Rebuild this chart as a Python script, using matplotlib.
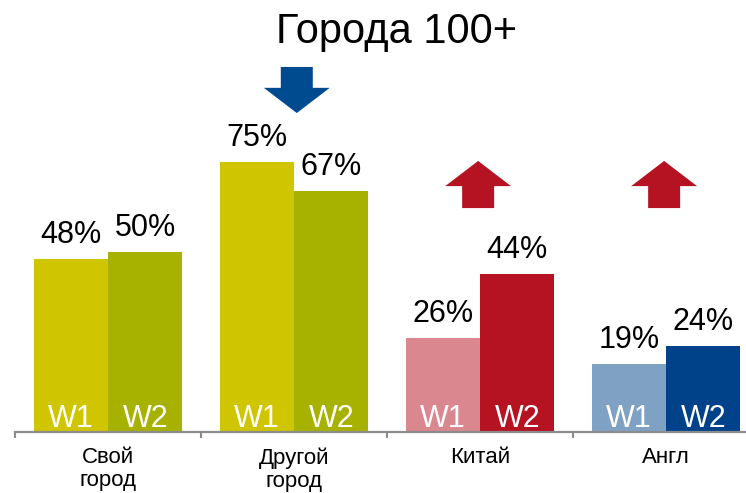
import matplotlib

matplotlib.use("Agg")
import matplotlib.pyplot as plt
from matplotlib.patches import Polygon

plt.rcParams["font.family"] = ["Liberation Sans", "DejaVu Sans"]

categories = ["Свой\nгород", "Другой\nгород", "Китай", "Англ"]
w1_values = [48, 75, 26, 19]
w2_values = [50, 67, 44, 24]
wave_labels = ["W1", "W2"]
trend = [None, "down", "up", "up"]

w1_colors = ["#CFC500", "#CFC500", "#DB878F", "#7FA2C4"]
w2_colors = ["#A7B100", "#A7B100", "#B51222", "#00428A"]
arrow_colors = {"down": "#004A8F", "up": "#B51222"}

BAR_W = 0.4


def arrow(ax, x, kind):
    # block arrow in data units
    hw, sw = 0.177, 0.086
    if kind == "down":
        top, base, tip = 101.4, 95.6, 88.6
    else:
        top, base, tip = 62.2, 68.3, 75.3
    pts = [
        (x - sw, top), (x + sw, top), (x + sw, base), (x + hw, base),
        (x, tip), (x - hw, base), (x - sw, base),
    ]
    ax.add_patch(Polygon(pts, closed=True, color=arrow_colors[kind], lw=0))


fig = plt.figure(figsize=(7.46, 4.93), dpi=100)
ax = fig.add_axes([15 / 746, 61 / 493, 744 / 746, 432 / 493])
ax.set_xlim(-0.5, 3.5)
ax.set_ylim(0, 120)

for i, (v1, v2) in enumerate(zip(w1_values, w2_values)):
    for dx, v, c, lab in ((-BAR_W / 2, v1, w1_colors[i], wave_labels[0]),
                          (BAR_W / 2, v2, w2_colors[i], wave_labels[1])):
        ax.bar(i + dx, v, width=BAR_W, color=c, linewidth=0)
        ax.annotate(f"{v}%", (i + dx, v), xytext=(0, 11.5), textcoords="offset points",
                    ha="center", va="baseline", fontsize=22, color="black")
        ax.annotate(lab, (i + dx, 0), xytext=(0, 3.6), textcoords="offset points",
                    ha="center", va="baseline", fontsize=22, color="white")
    if trend[i]:
        arrow(ax, i + (0.015 if trend[i] == "down" else -0.01), trend[i])

for side in ("top", "left", "right"):
    ax.spines[side].set_visible(False)
ax.spines["bottom"].set_color("#8C8C8C")
ax.spines["bottom"].set_linewidth(1.6)
ax.set_yticks([])
ax.set_xticks([-0.5, 0.5, 1.5, 2.5, 3.5])
ax.set_xticklabels([])
ax.tick_params(axis="x", which="major", length=4, width=1.5, color="#8C8C8C")
ax.set_xticks(range(len(categories)), minor=True)
ax.set_xticklabels(categories, minor=True, fontsize=16, linespacing=1.12)
ax.tick_params(axis="x", which="minor", length=0, pad=11)

fig.text(397 / 746, 1 - 43 / 493, "Города 100+", ha="center", va="baseline", fontsize=30)

fig.savefig("out.png", dpi=100)
